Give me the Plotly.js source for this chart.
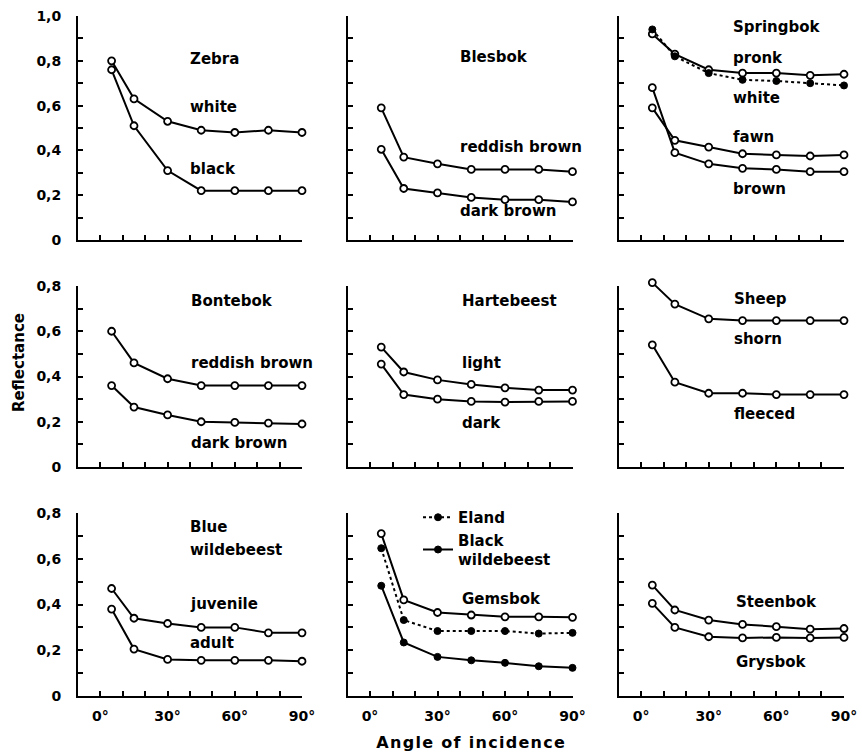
<!DOCTYPE html>
<html>
<head>
<meta charset="utf-8">
<script src="https://cdn.plot.ly/plotly-3.0.1.min.js"></script>
<style>
  html, body { margin: 0; padding: 0; background: #fff; }
  #chart { width: 862px; height: 752px; }
</style>
</head>
<body>
<div id="chart"></div>
<script>
// Angles of incidence (degrees) at which reflectance was measured
const angles = [5, 15, 30, 45, 60, 75, 90];

// Row 1
const zebraWhite      = [0.80, 0.63, 0.53, 0.49, 0.48, 0.49, 0.48];
const zebraBlack      = [0.76, 0.51, 0.31, 0.22, 0.22, 0.22, 0.22];
const blesbokReddish  = [0.59, 0.37, 0.34, 0.315, 0.315, 0.315, 0.305];
const blesbokDark     = [0.405, 0.23, 0.21, 0.19, 0.18, 0.18, 0.17];
const springbokPronk  = [0.92, 0.83, 0.76, 0.745, 0.745, 0.735, 0.74];
const springbokWhite  = [0.94, 0.82, 0.745, 0.715, 0.71, 0.70, 0.69];
const springbokFawn   = [0.59, 0.445, 0.415, 0.385, 0.38, 0.375, 0.38];
const springbokBrown  = [0.68, 0.39, 0.34, 0.32, 0.315, 0.305, 0.305];

// Row 2
const bontebokReddish = [0.60, 0.46, 0.39, 0.36, 0.36, 0.36, 0.36];
const bontebokDark    = [0.36, 0.265, 0.23, 0.20, 0.197, 0.194, 0.19];
const hartebeestLight = [0.53, 0.42, 0.385, 0.365, 0.35, 0.34, 0.34];
const hartebeestDark  = [0.455, 0.32, 0.30, 0.29, 0.287, 0.29, 0.29];
const sheepShorn      = [0.815, 0.72, 0.655, 0.647, 0.647, 0.647, 0.647];
const sheepFleeced    = [0.54, 0.375, 0.326, 0.326, 0.32, 0.32, 0.32];

// Row 3
const blueJuvenile    = [0.47, 0.34, 0.317, 0.30, 0.30, 0.276, 0.276];
const blueAdult       = [0.38, 0.205, 0.16, 0.156, 0.156, 0.156, 0.152];
const gemsbok         = [0.71, 0.42, 0.365, 0.354, 0.346, 0.346, 0.344];
const eland           = [0.646, 0.332, 0.284, 0.284, 0.284, 0.273, 0.276];
const blackWildebeest = [0.482, 0.234, 0.171, 0.156, 0.145, 0.13, 0.123];
const steenbok        = [0.485, 0.376, 0.332, 0.313, 0.303, 0.292, 0.295];
const grysbok         = [0.405, 0.30, 0.259, 0.254, 0.256, 0.254, 0.256];

// Tick values and labels
const xTickVals   = [0, 10, 20, 30, 40, 50, 60, 70, 80, 90];
const xTickLabels = ['0°', '', '', '30°', '', '', '60°', '', '', '90°'];
const yTickValsTop   = [0, 0.1, 0.2, 0.3, 0.4, 0.5, 0.6, 0.7, 0.8, 0.9, 1.0];
const yTickLabelsTop = ['0', '', '0,2', '', '0,4', '', '0,6', '', '0,8', '', '1,0'];
const yTickVals   = [0, 0.1, 0.2, 0.3, 0.4, 0.5, 0.6, 0.7, 0.8];
const yTickLabels = ['0', '', '0,2', '', '0,4', '', '0,6', '', '0,8'];

const W = 862, H = 752;
const FONT = { family: 'DejaVu Sans, Liberation Sans, Arial, sans-serif', size: 15, color: '#000', weight: 700 };
const TICKFONT = Object.assign({}, FONT, { size: 14 });

// Panel frame positions in pixels
const colPx = [[78, 302], [347.5, 572.5], [618.5, 844]];
const rowPx = [[16, 240], [286, 467], [513, 696]];   // [top, bottom]
const rowMax = [1.0, 0.8, 0.8];

const layout = {
  width: W, height: H,
  margin: { l: 0, r: 0, t: 0, b: 0 },
  paper_bgcolor: '#fff', plot_bgcolor: 'rgba(0,0,0,0)',
  font: FONT,
  showlegend: true,
  legend: {
    x: 418 / W, y: 1 - 501 / H, xanchor: 'left', yanchor: 'top',
    bgcolor: 'rgba(0,0,0,0)', font: FONT, itemwidth: 30, tracegroupgap: 0
  },
  annotations: []
};

for (let r = 0; r < 3; r++) {
  for (let c = 0; c < 3; c++) {
    const k = r * 3 + c + 1;
    const sfx = k === 1 ? '' : String(k);
    layout['xaxis' + sfx] = {
      domain: [colPx[c][0] / W, colPx[c][1] / W],
      range: [-10, 90],
      anchor: 'y' + sfx,
      tickmode: 'array', tickvals: xTickVals, ticktext: xTickLabels,
      showticklabels: r === 2, tickfont: TICKFONT, ticklabelstandoff: 6,
      ticks: 'inside', ticklen: 5, tickwidth: 2, tickcolor: '#000',
      showline: true, linewidth: 2, linecolor: '#000',
      showgrid: false, zeroline: false, fixedrange: true
    };
    layout['yaxis' + sfx] = {
      domain: [1 - rowPx[r][1] / H, 1 - rowPx[r][0] / H],
      range: [0, rowMax[r]],
      anchor: 'x' + sfx,
      tickmode: 'array',
      tickvals: r === 0 ? yTickValsTop : yTickVals,
      ticktext: r === 0 ? yTickLabelsTop : yTickLabels,
      showticklabels: c === 0, tickfont: TICKFONT, ticklabelstandoff: 12,
      ticks: 'inside', ticklen: 5, tickwidth: 2, tickcolor: '#000',
      showline: true, linewidth: 2, linecolor: '#000',
      showgrid: false, zeroline: false, fixedrange: true
    };
  }
}

// The sheep curve rises just above the 0.8 frame, so it is plotted on a hidden
// axis with the same scale as row 2 but a little more headroom.
const sheepMax = 0.82;
const row2Scale = (rowPx[1][1] - rowPx[1][0]) / rowMax[1];
layout.yaxis10 = {
  domain: [1 - rowPx[1][1] / H, 1 - (rowPx[1][1] - sheepMax * row2Scale) / H],
  range: [0, sheepMax], anchor: 'x6', visible: false, fixedrange: true,
  showgrid: false, zeroline: false
};

const traces = [];
function series(panel, values, name, opts) {
  opts = opts || {};
  const sfx = panel === 1 ? '' : String(panel);
  traces.push({
    type: 'scatter', mode: 'lines+markers',
    x: angles, y: values, name: name,
    xaxis: 'x' + sfx, yaxis: opts.yaxis || ('y' + sfx),
    showlegend: !!opts.legend, cliponaxis: false,
    line: { color: '#000', width: 2, dash: opts.dotted ? 'dot' : 'solid' },
    marker: opts.filled
      ? { symbol: 'circle', size: 7, color: '#000', line: { color: '#000', width: 1 } }
      : { symbol: 'circle', size: 7, color: '#fff', line: { color: '#000', width: 1.8 } }
  });
}

series(1, zebraWhite, 'white');
series(1, zebraBlack, 'black');
series(2, blesbokReddish, 'reddish brown');
series(2, blesbokDark, 'dark brown');
series(3, springbokPronk, 'pronk');
series(3, springbokWhite, 'white', { filled: true, dotted: true });
series(3, springbokFawn, 'fawn');
series(3, springbokBrown, 'brown');
series(4, bontebokReddish, 'reddish brown');
series(4, bontebokDark, 'dark brown');
series(5, hartebeestLight, 'light');
series(5, hartebeestDark, 'dark');
series(6, sheepShorn, 'shorn', { yaxis: 'y10' });
series(6, sheepFleeced, 'fleeced', { yaxis: 'y10' });
series(7, blueJuvenile, 'juvenile');
series(7, blueAdult, 'adult');
series(8, gemsbok, 'Gemsbok');
series(8, eland, 'Eland', { filled: true, dotted: true, legend: true });
series(8, blackWildebeest, 'Black<br>wildebeest', { filled: true, legend: true });
series(9, steenbok, 'Steenbok');
series(9, grysbok, 'Grysbok');

// Panel labels: [panel, text, x (deg), y (reflectance)]
const labels = [
  [1, 'Zebra', 39, 0.81], [1, 'white', 39, 0.594], [1, 'black', 39, 0.317],
  [2, 'Blesbok', 39, 0.817], [2, 'reddish brown', 39, 0.417], [2, 'dark brown', 39, 0.128],
  [3, 'Springbok', 40, 0.952], [3, 'pronk', 40, 0.811], [3, 'white', 40, 0.635],
  [3, 'fawn', 40, 0.461], [3, 'brown', 40, 0.226],
  [4, 'Bontebok', 39.5, 0.735], [4, 'reddish brown', 39.5, 0.461], [4, 'dark brown', 39.5, 0.105],
  [5, 'Hartebeest', 40, 0.735], [5, 'light', 40, 0.461], [5, 'dark', 40, 0.196],
  [6, 'Sheep', 40.5, 0.741], [6, 'shorn', 40.5, 0.564], [6, 'fleeced', 40.5, 0.233],
  [7, 'Blue', 39, 0.737], [7, 'wildebeest', 39, 0.638], [7, 'juvenile', 39, 0.401], [7, 'adult', 39, 0.23],
  [8, 'Gemsbok', 40, 0.423],
  [9, 'Steenbok', 41, 0.412], [9, 'Grysbok', 41, 0.15]
];
labels.forEach(([p, text, x, y]) => {
  const sfx = p === 1 ? '' : String(p);
  layout.annotations.push({
    xref: 'x' + sfx, yref: 'y' + sfx, x: x, y: y, text: text,
    xanchor: 'left', yanchor: 'middle', showarrow: false, font: FONT
  });
});

// Shared axis titles
const xTitle = 'Angle of incidence';
const yTitle = 'Reflectance';
layout.annotations.push({
  xref: 'paper', yref: 'paper', x: 471 / W, y: 1 - 742 / H,
  text: xTitle, showarrow: false, xanchor: 'center', yanchor: 'middle',
  font: Object.assign({}, FONT, { size: 16 })
});
layout.annotations.push({
  xref: 'paper', yref: 'paper', x: 19 / W, y: 1 - 363 / H,
  text: yTitle, showarrow: false, textangle: -90, xanchor: 'center', yanchor: 'middle',
  font: Object.assign({}, FONT, { size: 15 })
});

Plotly.newPlot('chart', traces, layout, { staticPlot: true, displayModeBar: false }).then(gd => {
  // widen the tracking of the shared horizontal title
  gd.querySelectorAll('.annotation-text').forEach(t => {
    if (t.textContent === xTitle) t.style.letterSpacing = '1.3px';
  });
});
</script>
</body>
</html>
